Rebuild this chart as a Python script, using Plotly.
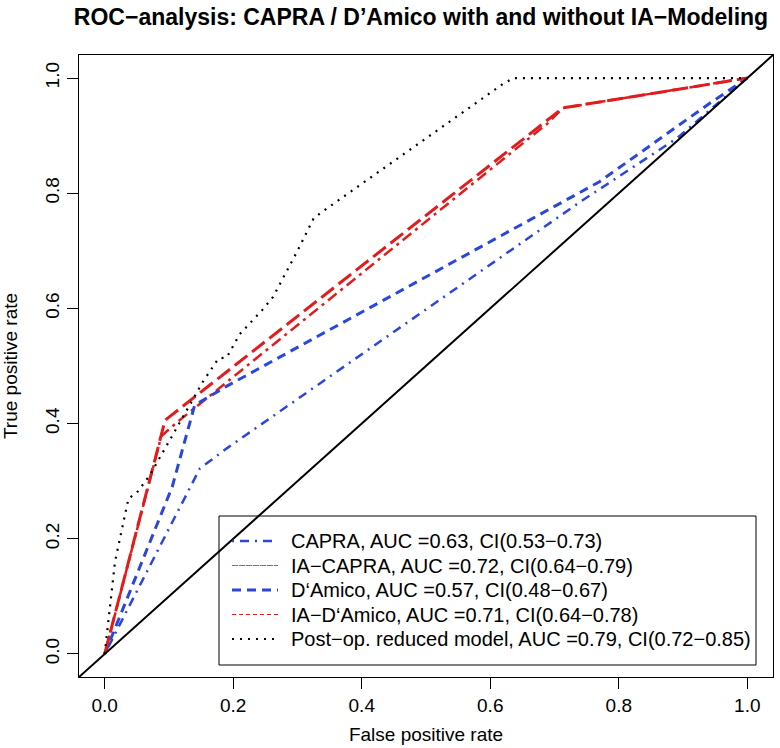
import plotly.graph_objects as go

# ---- data ----
fpr_capra = [0.0, 0.148, 0.19, 0.74, 0.89, 1.0]
tpr_capra = [0.0, 0.322, 0.357, 0.785, 0.895, 1.0]

fpr_ia_capra = [0.0, 0.088, 0.11, 0.69, 0.713, 1.0]
tpr_ia_capra = [0.0, 0.378, 0.40, 0.922, 0.948, 1.0]

fpr_damico = [0.0, 0.105, 0.14, 0.19, 0.77, 0.94, 1.0]
tpr_damico = [0.0, 0.29, 0.432, 0.465, 0.82, 0.955, 1.0]

fpr_ia_damico = [0.0, 0.094, 0.713, 1.0]
tpr_ia_damico = [0.0, 0.406, 0.948, 1.0]

fpr_postop = [0.0, 0.016, 0.037, 0.05, 0.07, 0.153, 0.177, 0.19, 0.21, 0.245,
              0.262, 0.30, 0.325, 0.335, 0.62, 0.636, 1.0]
tpr_postop = [0.0, 0.16, 0.27, 0.28, 0.31, 0.473, 0.513, 0.515, 0.555, 0.597,
              0.62, 0.70, 0.756, 0.765, 0.99, 1.0, 1.0]

legend_labels = [
    "CAPRA, AUC =0.63, CI(0.53\u22120.73)",
    "IA\u2212CAPRA, AUC =0.72, CI(0.64\u22120.79)",
    "D\u2018Amico, AUC =0.57, CI(0.48\u22120.67)",
    "IA\u2212D\u2018Amico, AUC =0.71, CI(0.64\u22120.78)",
    "Post\u2212op. reduced model, AUC =0.79, CI(0.72\u22120.85)",
]

axis_range = [-0.04, 1.04]
tick_vals = [0.0, 0.2, 0.4, 0.6, 0.8, 1.0]
tick_text = ["0.0", "0.2", "0.4", "0.6", "0.8", "1.0"]

title_text = "ROC\u2212analysis: CAPRA / D\u2019Amico with and without IA\u2212Modeling"
x_title = "False positive rate"
y_title = "True positive rate"

BLUE = "#2b47d9"
RED = "#e21c1c"
BLACK = "#000000"

W, H = 780, 748
ML, MR, MT, MB = 79, 7, 55, 71
PW, PH = W - ML - MR, H - MT - MB


def px_x(p):
    return (p - ML) / PW


def px_y(p):
    return (H - MB - p) / PH


fig = go.Figure()

curve_styles = [
    (BLUE, 2.5, "2px,6px,9px,6px"),
    (RED, 2.5, "3px,5px,11px,5px"),
    (BLUE, 3, "9px,6px"),
    (RED, 3, "16px,6px"),
    (BLACK, 2.2, "2px,6px"),
]
curve_data = [
    (fpr_capra, tpr_capra),
    (fpr_ia_capra, tpr_ia_capra),
    (fpr_damico, tpr_damico),
    (fpr_ia_damico, tpr_ia_damico),
    (fpr_postop, tpr_postop),
]
for (x, y), (c, w, d), lab in zip(curve_data, curve_styles, legend_labels):
    fig.add_trace(go.Scatter(x=x, y=y, mode="lines", name=lab, showlegend=False,
                             line=dict(color=c, width=w, dash=d)))

# diagonal reference line across the whole plotting region
fig.add_trace(go.Scatter(x=axis_range, y=axis_range, mode="lines",
                         showlegend=False, hoverinfo="skip",
                         line=dict(color=BLACK, width=2)))

FONT = "Liberation Sans, Arial, Helvetica, sans-serif"

# ---- legend drawn as box + sample lines + text (R style) ----
leg_styles = [
    (BLUE, 2.5, "2px,6px,9px,6px"),
    ("#ee4444", 1, "6px,1px"),
    (BLUE, 3, "9px,6px"),
    (RED, 1, "4px,3px"),
    (BLACK, 2, "2px,6px"),
]
shapes = [dict(type="rect", xref="paper", yref="paper",
               x0=px_x(219), x1=px_x(756), y0=px_y(665), y1=px_y(516),
               line=dict(color="black", width=1), fillcolor="rgba(0,0,0,0)")]
annotations = []
row0, row_step = 541, 24.5
for i, (lab, (c, w, d)) in enumerate(zip(legend_labels, leg_styles)):
    yy = px_y(row0 + i * row_step)
    shapes.append(dict(type="line", xref="paper", yref="paper",
                       x0=px_x(232), x1=px_x(278), y0=yy, y1=yy,
                       line=dict(color=c, width=w, dash=d)))
    annotations.append(dict(text=lab, xref="paper", yref="paper",
                            x=px_x(289), y=yy, xanchor="left",
                            yanchor="middle", showarrow=False,
                            font=dict(size=20, family=FONT, color="black")))

fig.update_layout(
    width=W, height=H,
    margin=dict(l=ML, r=MR, t=MT, b=MB),
    plot_bgcolor="white", paper_bgcolor="white",
    font=dict(family=FONT, size=19, color="black"),
    title=dict(text="<b>" + title_text + "</b>", x=px_x(421), xref="paper",
               xanchor="center", y=1 - 17 / H, yref="container",
               yanchor="middle", font=dict(size=23, family=FONT)),
    xaxis=dict(range=axis_range, tickvals=tick_vals, ticktext=tick_text,
               ticks="outside", ticklen=11, tickwidth=1, tickcolor="black",
               showline=True, linecolor="black", linewidth=1, mirror=True,
               showgrid=False, zeroline=False, automargin=False,
               title=dict(text=x_title, standoff=12, font=dict(size=19))),
    yaxis=dict(range=axis_range, tickvals=tick_vals, ticktext=tick_text,
               ticks="outside", ticklen=11, tickwidth=1, tickcolor="black",
               tickangle=-90, automargin=False,
               showline=True, linecolor="black", linewidth=1, mirror=True,
               showgrid=False, zeroline=False,
               title=dict(text=y_title, standoff=20, font=dict(size=19))),
    shapes=shapes,
    annotations=annotations,
    showlegend=False,
)

fig.write_html("out.html", config={"displayModeBar": False},
               post_script="document.body.style.margin='0';"
                           "document.body.style.overflow='hidden';")
